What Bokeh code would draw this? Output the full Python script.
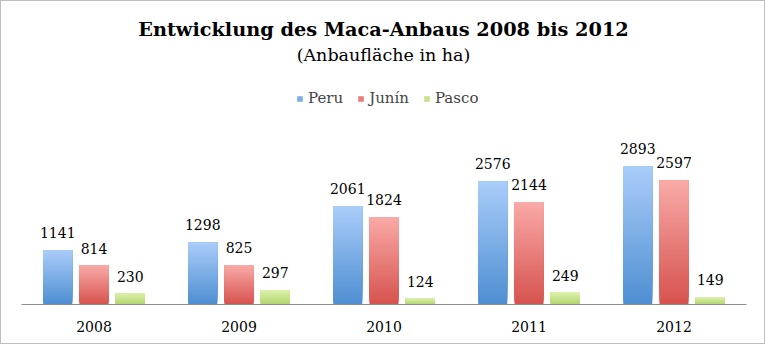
from bokeh.plotting import figure
from bokeh.models import ColumnDataSource, FactorRange, Range1d, Label, Legend, LegendItem
from bokeh.transform import dodge
from bokeh.core.properties import value
from bokeh.embed import file_html
from bokeh.resources import INLINE

years = ["2008", "2009", "2010", "2011", "2012"]
peru = [1141, 1298, 2061, 2576, 2893]
junin = [814, 825, 1824, 2144, 2597]
pasco = [230, 297, 124, 249, 149]
series_names = ["Peru", "Junín", "Pasco"]
title_text = "Entwicklung des Maca-Anbaus 2008 bis 2012"
subtitle_text = "(Anbaufläche in ha)"

FONT = "DejaVu Serif"
# (top colour, bottom colour) for each series gradient
grad = [((170, 205, 249), (78, 142, 210)),
        ((249, 170, 167), (214, 82, 78)),
        ((218, 240, 170), (179, 213, 110))]
offsets = [-0.25, 0.0, 0.25]
NSEG = 40

p = figure(x_range=FactorRange(*years), y_range=Range1d(0, 6340),
           width=765, height=344, output_backend="svg", toolbar_location=None,
           min_border_left=20, min_border_right=20, min_border_top=0, min_border_bottom=41)
p.styles = {"border": "1px solid #BDBDBD"}
p.outline_line_color = None
p.xgrid.visible = False
p.ygrid.visible = False
p.yaxis.visible = False
p.xaxis.axis_line_color = "#8C8C8C"
p.xaxis.major_tick_line_color = None
p.xaxis.minor_tick_line_color = None
p.xaxis.major_label_standoff = 10
p.xaxis.major_label_text_font = FONT
p.xaxis.major_label_text_font_size = "14px"
p.xaxis.major_label_text_color = "black"

def mix(c1, c2, t):
    return "#%02x%02x%02x" % tuple(int(round(a + (b - a) * t)) for a, b in zip(c1, c2))

legend_items = []
for vals, (ctop, cbot), off, name in zip([peru, junin, pasco], grad, offsets, series_names):
    xs, bots, tops, cols = [], [], [], []
    for k in range(NSEG):
        for yr, v in zip(years, vals):
            xs.append(yr)
            bots.append(v * k / NSEG)
            tops.append(v)
            cols.append(mix(cbot, ctop, (k + 0.5) / NSEG))
    src = ColumnDataSource(dict(year=xs, bottom=bots, top=tops, color=cols))
    p.vbar(x=dodge("year", off, range=p.x_range), bottom="bottom", top="top", width=0.2,
           source=src, fill_color="color", line_color=None)
    # legend proxy
    r = p.vbar(x=[years[0]], top=[0], bottom=[0], width=0.0, fill_color=mix(cbot, ctop, 0.5),
               line_color=None)
    legend_items.append(LegendItem(label=name, renderers=[r]))
    lsrc = ColumnDataSource(dict(year=years, v=vals, t=[str(x) for x in vals]))
    p.text(x=dodge("year", off, range=p.x_range), y="v", text="t", source=lsrc,
           text_align="center", text_baseline="bottom", y_offset=-12,
           text_font=value(FONT), text_font_size="14px", text_color="black")

p.add_layout(Label(x=362, y=274.7, x_units="screen", y_units="screen", text=title_text,
                   text_align="center", text_baseline="middle", text_font=FONT,
                   text_font_style="bold", text_font_size="19.3px", text_color="black"))
p.add_layout(Label(x=362, y=249.7, x_units="screen", y_units="screen", text=subtitle_text,
                   text_align="center", text_baseline="middle", text_font=FONT,
                   text_font_size="17.5px", text_color="black"))

legend = Legend(items=legend_items, orientation="horizontal", location=(275, 197),
                glyph_width=7, glyph_height=7, label_height=16, label_standoff=5, spacing=14,
                padding=0, margin=0, border_line_color=None, background_fill_alpha=0,
                label_text_font=FONT, label_text_font_size="15px")
p.add_layout(legend, "center")

open("out.html", "w").write(file_html(p, INLINE))
